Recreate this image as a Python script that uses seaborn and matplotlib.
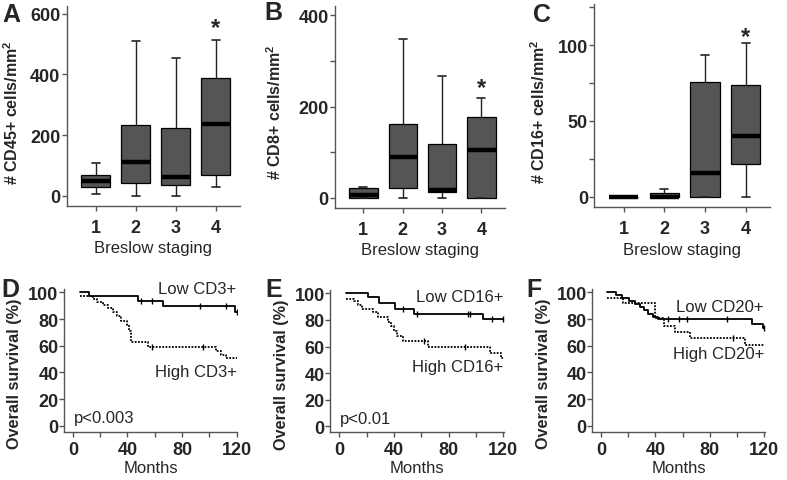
import numpy as np
import pandas as pd
import matplotlib.pyplot as plt
import seaborn as sns

# Panels A-C: five-number summaries per Breslow stage (min, Q1, median, Q3, max)
stages = ['1', '2', '3', '4']

cd45_min = [4, 0, 0, 30]
cd45_q1 = [28, 41, 34, 67]
cd45_med = [49, 112, 62, 238]
cd45_q3 = [67, 234, 224, 387]
cd45_max = [109, 511, 454, 515]

cd8_min = [0, 0, 0, 0]
cd8_q1 = [0, 21, 12, 0]
cd8_med = [6, 90, 18, 105]
cd8_q3 = [22, 163, 119, 177]
cd8_max = [24, 347, 267, 219]

cd16_min = [0, 0, 0, 0]
cd16_q1 = [0, 0, 0, 21.5]
cd16_med = [0, 0, 16, 40]
cd16_q3 = [0, 2.4, 75.5, 74]
cd16_max = [0, 5.3, 93.5, 101.5]

# Panels D-F: Kaplan-Meier steps (months, overall survival %) and censored times
d_low_t = [5, 12, 48, 66, 119, 120]
d_low_s = [100, 97, 93.5, 89.5, 85, 85]
d_low_cens = [50, 58, 93, 112, 120]
d_high_t = [5, 15, 17.5, 22, 26, 29.5, 32.5, 35.5, 39.5, 41, 42.3, 55, 105, 108.5, 112, 120]
d_high_s = [97, 95, 93, 90.5, 88, 85, 82, 78.5, 75.5, 71, 62.5, 59, 56, 53, 50.5, 50.5]
d_high_cens = [58, 95]

e_low_t = [5, 21, 29, 40.5, 55, 105, 120]
e_low_s = [100, 97, 93, 88.5, 84.7, 81, 81]
e_low_cens = [47, 57, 94, 96, 112, 120]
e_high_t = [5, 11, 14, 16.5, 25, 28.5, 35.5, 38, 40, 42, 46.5, 65, 110, 118, 120]
e_high_s = [96, 94, 91, 88.5, 86, 82.5, 78.5, 75.5, 71.5, 68, 64, 60, 55.5, 51.5, 51.5]
e_high_cens = [62, 92]

f_low_t = [4.5, 11, 15.5, 20.5, 25, 28.5, 31.5, 34.5, 38, 42, 111, 119, 120]
f_low_s = [100, 98, 95.5, 93.5, 91.5, 89, 86.5, 84, 81.5, 80, 76.5, 73.5, 73.5]
f_low_cens = [49, 57, 63, 93, 120]
f_high_t = [4.5, 16, 40, 46, 54.5, 65.5, 106, 120]
f_high_s = [96, 92, 81, 74.5, 70, 65.5, 60.5, 60.5]
f_high_cens = [97]

sns.set_style('ticks')
plt.rcParams['font.family'] = ['Liberation Sans', 'DejaVu Sans']
plt.rcParams['mathtext.fontset'] = 'custom'
plt.rcParams['mathtext.bf'] = 'Liberation Sans:bold'
plt.rcParams['mathtext.rm'] = 'Liberation Sans:bold'
plt.rcParams['mathtext.default'] = 'bf'

W, H = 787, 481
fig = plt.figure(figsize=(W / 100, H / 100), dpi=100)


def px_axes(x0, y0, x1, y1):
    return fig.add_axes([x0 / W, 1 - y1 / H, (x1 - x0) / W, (y1 - y0) / H])


def style_axes(ax):
    sns.despine(ax=ax)
    for s in ['left', 'bottom']:
        ax.spines[s].set_color('#555555')
        ax.spines[s].set_linewidth(1.0)
    ax.tick_params(which='both', direction='out', length=3.5, width=1, color='#555555')


def box_panel(ax, mins, q1, med, q3, maxs, ylabel, ylim, major, minor, star, lab_x, lab_y):
    df = pd.DataFrame({'stage': np.repeat(stages, 5),
                       'value': np.column_stack([mins, q1, med, q3, maxs]).ravel()})
    sns.boxplot(data=df, x='stage', y='value', order=stages, ax=ax, whis=(0, 100),
                width=0.72, color='#555555', saturation=1, linecolor='black',
                linewidth=0.9, showfliers=False,
                medianprops=dict(color='black', linewidth=3.2),
                whiskerprops=dict(color='#222222', linewidth=1.0),
                capprops=dict(color='#222222', linewidth=1.2), capwidths=0.2)
    ax.set_xlim(-0.72, 3.6)
    ax.set_ylim(*ylim)
    ax.set_yticks(major)
    ax.set_yticks(minor, minor=True)
    style_axes(ax)
    ax.tick_params(axis='x', pad=6, labelsize=13)
    ax.tick_params(axis='y', pad=1, labelsize=13)
    for t in ax.get_xticklabels() + ax.get_yticklabels():
        t.set_fontweight('bold')
    ax.set_ylabel(ylabel, fontsize=11.5, fontweight='bold')
    ax.set_xlabel('Breslow staging', fontsize=12)
    ax.yaxis.set_label_coords(lab_x, lab_y)
    ax.xaxis.set_label_coords(0.5, lab_y - 0.645)
    ax.annotate('*', xy=(3, star), xytext=(0, -9), textcoords='offset points',
                ha='center', va='baseline', fontsize=17, fontweight='bold')


def step_at(t, s, times):
    idx = np.searchsorted(np.asarray(t), np.asarray(times), side='right') - 1
    return np.asarray(s)[np.clip(idx, 0, len(s) - 1)]


def km_panel(ax, lt, ls, lc, ht, hs, hc, low_lab, high_lab, low_y, high_y, pval, lab_x):
    sns.lineplot(x=lt, y=ls, ax=ax, color='black', linewidth=1.3,
                 drawstyle='steps-post', estimator=None, sort=False)
    sns.lineplot(x=ht, y=hs, ax=ax, color='black', linewidth=1.3,
                 drawstyle='steps-post', linestyle=(0, (1, 0.8)), estimator=None, sort=False)
    sns.scatterplot(x=lc, y=step_at(lt, ls, lc), ax=ax, marker='|', s=18,
                    color='black', linewidth=1.0)
    sns.scatterplot(x=hc, y=step_at(ht, hs, hc), ax=ax, marker='|', s=18,
                    color='black', linewidth=1.0)
    ax.set_xlim(-6.5, 120.5)
    ax.set_ylim(-4.5, 102.5)
    ax.set_xticks([0, 40, 80, 120])
    ax.set_xticks([20, 60, 100], minor=True)
    ax.set_yticks([0, 20, 40, 60, 80, 100])
    style_axes(ax)
    ax.tick_params(axis='x', pad=3, labelsize=13)
    ax.tick_params(axis='y', pad=0.5, labelsize=13)
    for t in ax.get_xticklabels() + ax.get_yticklabels():
        t.set_fontweight('bold')
    ax.set_ylabel('Overall survival (%)', fontsize=11.7, fontweight='bold')
    ax.set_xlabel('Months', fontsize=12)
    ax.yaxis.set_label_coords(lab_x, 0.41)
    ax.xaxis.set_label_coords(0.5, -0.195)
    ax.text(120, low_y, low_lab, ha='right', va='center', fontsize=12)
    ax.text(120, high_y, high_lab, ha='right', va='center', fontsize=12)
    if pval:
        ax.text(0.5, 6, pval, ha='left', va='center', fontsize=12)


axA = px_axes(66.7, 6.7, 240, 206.7)
box_panel(axA, cd45_min, cd45_q1, cd45_med, cd45_q3, cd45_max,
          '# CD45+ cells/mm$^2$', (-33, 627), [0, 200, 400, 600], [], 576, -0.262, 0.471)
axB = px_axes(335, 6.7, 505, 209)
box_panel(axB, cd8_min, cd8_q1, cd8_med, cd8_q3, cd8_max,
          '# CD8+ cells/mm$^2$', (-22, 421), [0, 200, 400], [100, 300], 255, -0.3, 0.477)
axC = px_axes(594.3, 5, 770, 208.3)
box_panel(axC, cd16_min, cd16_q1, cd16_med, cd16_q3, cd16_max,
          '# CD16+ cells/mm$^2$', (-6.8, 127), [0, 50, 100], [25, 75, 125], 109.5, -0.262, 0.474)

axD = px_axes(64, 290, 237.3, 432.7)
km_panel(axD, d_low_t, d_low_s, d_low_cens, d_high_t, d_high_s, d_high_cens,
         'Low CD3+', 'High CD3+', 102.5, 41, 'p<0.003', -0.245)
axE = px_axes(330.3, 291, 504, 433.3)
km_panel(axE, e_low_t, e_low_s, e_low_cens, e_high_t, e_high_s, e_high_cens,
         'Low CD16+', 'High CD16+', 97.5, 45, 'p<0.01', -0.24)
axF = px_axes(592.3, 290, 764.7, 432.7)
km_panel(axF, f_low_t, f_low_s, f_low_cens, f_high_t, f_high_s, f_high_cens,
         'Low CD20+', 'High CD20+', 89.5, 54.5, None, -0.242)

for letter, x, y in [('A', 2, 21.7), ('B', 264, 20), ('C', 533, 21.5),
                     ('D', 1, 297), ('E', 265, 297), ('F', 526, 297)]:
    fig.text(x / W, 1 - y / H, letter, ha='left', va='baseline',
             fontsize=18, fontweight='bold')

fig.savefig('out.png', dpi=100)
